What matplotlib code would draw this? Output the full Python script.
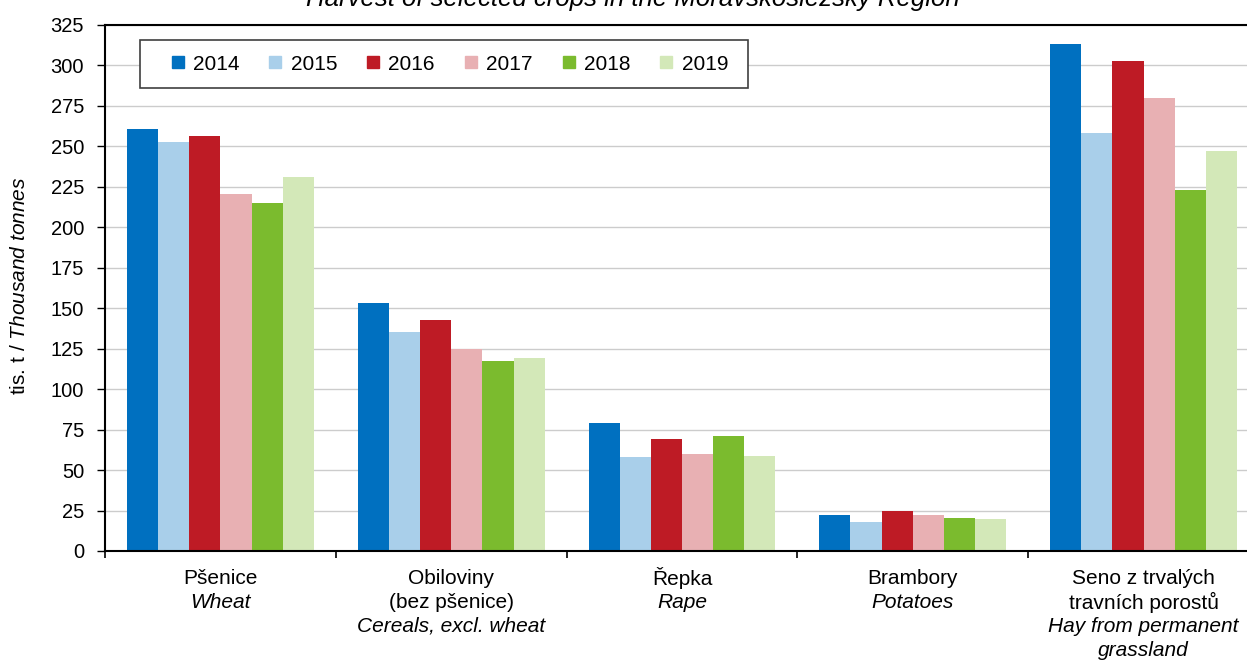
import numpy as np
import matplotlib
matplotlib.use("Agg")
import matplotlib.pyplot as plt
from matplotlib.lines import Line2D
from matplotlib.patches import Rectangle
from matplotlib.transforms import blended_transform_factory

plt.rcParams['font.family'] = ['Liberation Sans', 'DejaVu Sans']
plt.rcParams['mathtext.fontset'] = 'custom'
plt.rcParams['mathtext.rm'] = 'Liberation Sans'
plt.rcParams['mathtext.it'] = 'Liberation Sans:italic'

years = ['2014', '2015', '2016', '2017', '2018', '2019']
colors = ['#0070C0', '#A9CFEA', '#BE1B25', '#E8B0B3', '#7BBB2E', '#D3E8B8']

# cs / en label lines for each crop
labels_cs = [['Pšenice'], ['Obiloviny', '(bez pšenice)'], ['Řepka'], ['Brambory'],
             ['Seno z trvalých', 'travních porostů']]
labels_en = [['Wheat'], ['Cereals, excl. wheat'], ['Rape'], ['Potatoes'],
             ['Hay from permanent', 'grassland']]

# thousand tonnes
harvest = {
    '2014': [261, 153, 79, 22.5, 313],
    '2015': [253, 135.5, 58, 18, 258],
    '2016': [256.5, 142.5, 69.5, 24.8, 302.5],
    '2017': [220.5, 125, 60, 22.5, 280],
    '2018': [215, 117.5, 71, 20.5, 223],
    '2019': [231, 119.5, 59, 19.5, 247],
}

W, H = 1247, 661
FS = 15
fig = plt.figure(figsize=(W / 100, H / 100), dpi=100)
ax = fig.add_axes([105 / W, 1 - 551 / H, 1154 / W, 526 / H])

n = len(labels_cs)
x = np.arange(n)
bw = 0.135
for i, yr in enumerate(years):
    ax.bar(x + (i - 2.5) * bw, harvest[yr], width=bw, color=colors[i], zorder=2)

ax.set_xlim(-0.5, n - 0.5)
ax.set_ylim(0, 325)
ax.set_yticks(np.arange(0, 326, 25))
ax.yaxis.grid(True, color='#CCCCCC', linewidth=1, zorder=0)
ax.set_axisbelow(True)
ax.tick_params(axis='y', direction='out', length=6, width=1, labelsize=14.5, pad=9)
ax.set_xticks(np.arange(-0.5, n, 1.0))
ax.set_xticklabels([])
ax.tick_params(axis='x', direction='out', length=5, width=1.2)

for s in ['left', 'bottom', 'top']:
    ax.spines[s].set_linewidth(1.5)
    ax.spines[s].set_color('black')
ax.spines['right'].set_visible(False)

# category labels, one text per line
tr = blended_transform_factory(ax.transData, fig.transFigure)
for k in range(n):
    lines = [(t, 'normal') for t in labels_cs[k]] + [(t, 'italic') for t in labels_en[k]]
    for j, (t, st) in enumerate(lines):
        ax.text(k, 1 - (578 + 24 * j) / H, t, transform=tr, ha='center', va='center',
                fontsize=FS, style=st, clip_on=False)

fig.text(20 / W, 1 - 286 / H, r'tis. t / $\it{Thousand\ tonnes}$', rotation=90,
         ha='center', va='center', fontsize=FS)

# title sits partly above the picture, as in the reference
fig.text(633 / W, 1 - 6 / H, 'Harvest of selected crops in the Moravskoslezský Region',
         ha='center', va='baseline', fontsize=18.5, style='italic')

# legend frame drawn by hand, entries in a frameless legend on top of it
frame = Rectangle((140 / W, 1 - 88 / H), 608 / W, 48 / H, transform=fig.transFigure,
                  facecolor='white', edgecolor='#404040', linewidth=1.2,
                  zorder=3, clip_on=False)
ax.add_patch(frame)
handles = [Line2D([], [], marker='s', linestyle='none', markersize=8,
                  markerfacecolor=c, markeredgecolor=c) for c in colors]
leg = ax.legend(handles, years, loc='center left',
                bbox_to_anchor=(172 / W, 1 - 64 / H), bbox_transform=fig.transFigure,
                ncol=6, frameon=False, fontsize=FS, borderaxespad=0, borderpad=0,
                handlelength=0.55, handletextpad=0.45, columnspacing=1.46)
leg.set_zorder(5)

fig.savefig('out.png', dpi=100)
